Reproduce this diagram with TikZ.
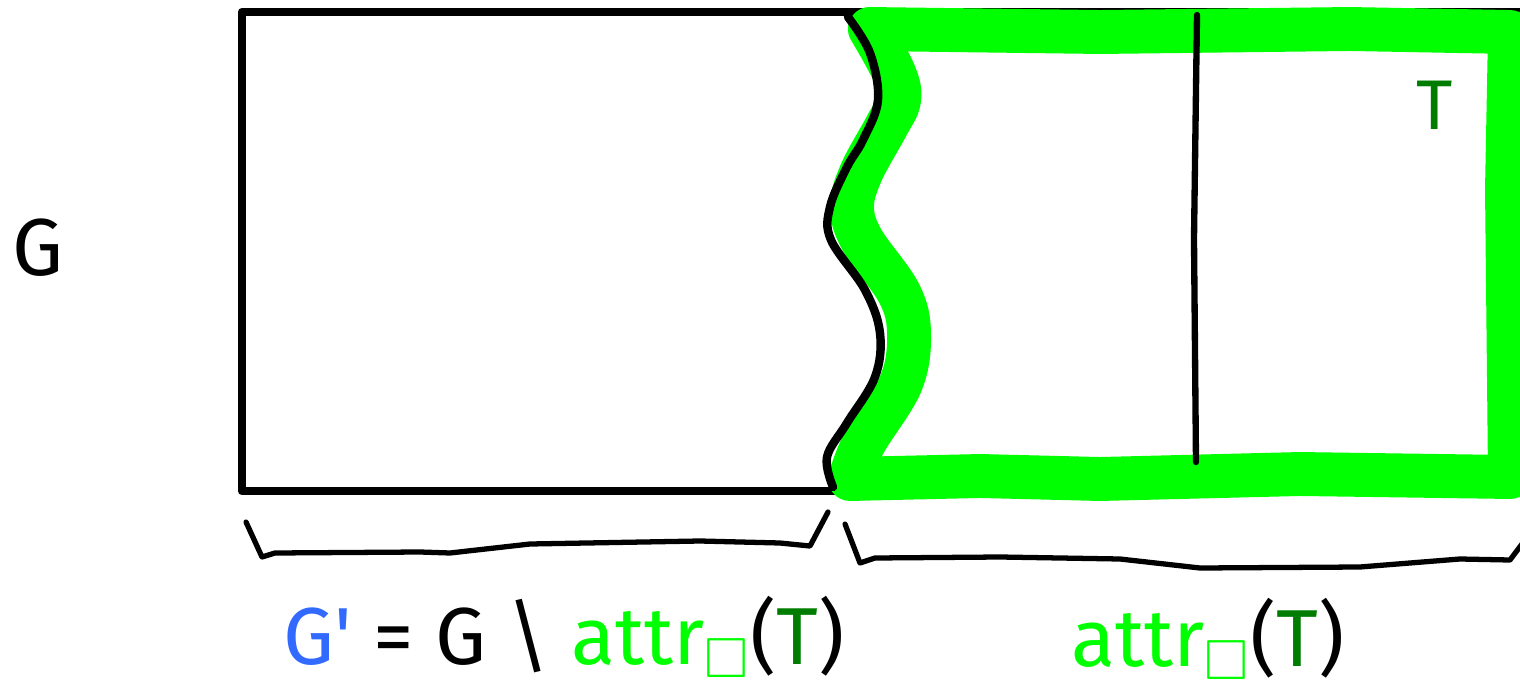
\documentclass[tikz,border=0pt]{standalone}
\usepackage{amssymb}
\usepackage{fontspec}
\setmainfont{Fira Sans}
\usetikzlibrary{calc}
\definecolor{AttrGreen}{RGB}{0,255,0}
\definecolor{TrapGreen}{RGB}{0,125,0}
\definecolor{SubBlue}{RGB}{50,105,255}

\begin{document}
\begin{tikzpicture}[
  ink/.style={draw=black, line width=2.4pt, line cap=round, line join=round},
  thinink/.style={draw=black, line width=1.5pt, line cap=round, line join=round},
  glow/.style={draw=AttrGreen, line width=12.5pt, line cap=round, line join=round},
  lbl/.style={font=\fontsize{23}{28}\selectfont, inner sep=1pt},
]
  \useasboundingbox (0,0) rectangle (15.2,6.89);

  % game arena
  \draw[ink] (15.3,6.77) -- (2.42,6.77) -- (2.42,1.98) -- (15.3,1.98);

  % green attractor region
  \draw[glow] plot[smooth, tension=0.6] coordinates {
      (8.50,2.10) (8.64,2.46) (9.01,3.06) (9.09,3.56) (8.99,3.96)
      (8.62,4.49) (8.52,4.82) (8.61,5.16) (8.86,5.62) (8.99,5.89)
      (8.94,6.16) (8.70,6.60)}
    -- (11.0,6.57) -- (13.5,6.60) -- (15.10,6.57)
    -- (15.07,5.0) -- (15.10,2.12)
    -- (13.0,2.15) -- (11.0,2.10) -- (9.8,2.13) -- cycle;

  % cut between G' and the attractor
  \draw[ink] plot[smooth, tension=0.6] coordinates {
      (8.48,6.72) (8.70,6.36) (8.78,5.89) (8.63,5.49) (8.47,5.22)
      (8.30,4.82) (8.31,4.49) (8.65,3.99) (8.80,3.56) (8.75,3.12)
      (8.47,2.66) (8.27,2.32) (8.33,2.02)};

  % target split
  \draw[ink, line width=1.8pt] (11.97,6.74) -- (11.94,4.5) -- (11.96,2.27);

  % braces
  \draw[thinink] (2.46,1.67) -- (2.62,1.32) -- (2.75,1.36) -- (4.2,1.37)
    -- (4.5,1.36) -- (5.3,1.45) -- (7.0,1.48) -- (7.8,1.46) -- (8.10,1.43)
    -- (8.28,1.77);
  \draw[thinink] (8.45,1.65) -- (8.60,1.26) -- (8.75,1.31) -- (10.0,1.32)
    -- (11.2,1.30) -- (12.0,1.21) -- (13.6,1.22) -- (14.6,1.30) -- (15.1,1.29)
    -- (15.22,1.45);

  % labels
  \node[lbl] (g) at (0.38,4.41) {G};
  \node[lbl, text=TrapGreen, font=\fontsize{20}{24}\selectfont] (t) at (14.35,5.84) {T};
  \node[lbl] (gprime) at (5.64,0.52)
    {\textcolor{SubBlue}{G\textquotesingle} = G \textbackslash\ \textcolor{AttrGreen}{attr$_{\square}$}(\textcolor{TrapGreen}{T})};
  \node[lbl] (attr) at (12.08,0.50)
    {\textcolor{AttrGreen}{attr$_{\square}$}(\textcolor{TrapGreen}{T})};
\end{tikzpicture}
\end{document}
